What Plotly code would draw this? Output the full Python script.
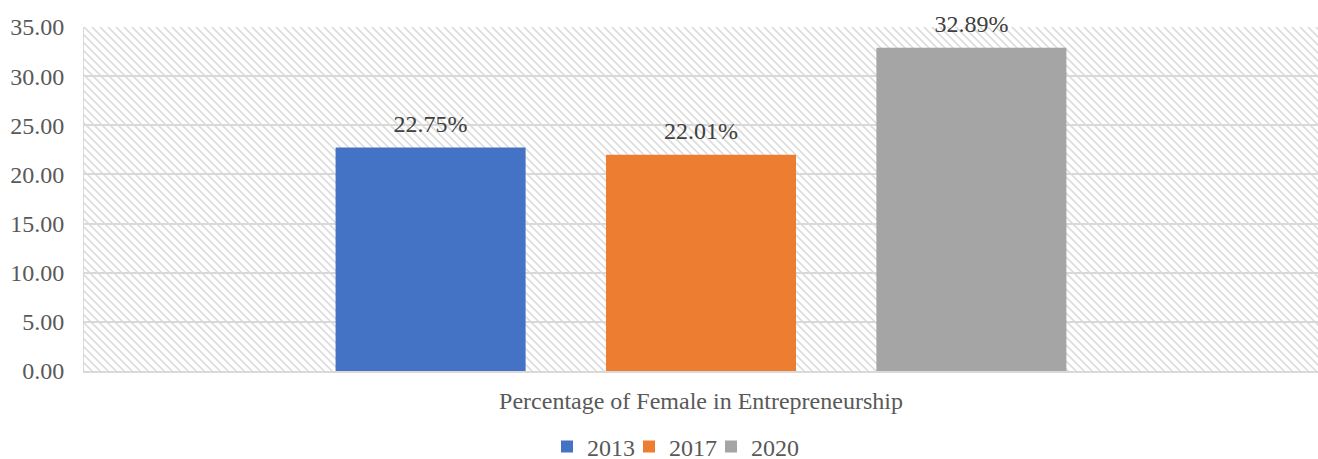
import base64
import plotly.graph_objects as go

categories = ["Percentage of Female in Entrepreneurship"]
years = ["2013", "2017", "2020"]
values = [22.75, 22.01, 32.89]
labels = ["22.75%", "22.01%", "32.89%"]
colors = ["#4472C4", "#ED7D31", "#A5A5A5"]
y_ticks = [0, 5, 10, 15, 20, 25, 30, 35]

W, H = 1318, 459
ML, MR, MT, MB = 84, 0, 27, 88
PW, PH = W - ML - MR, H - MT - MB

svg = f'''<svg xmlns="http://www.w3.org/2000/svg" width="{PW}" height="{PH}" viewBox="0 0 {PW} {PH}">
<defs><pattern id="p" width="8" height="8" patternUnits="userSpaceOnUse">
<path d="M-2,6 l4,4 M0,0 l8,8 M6,-2 l4,4" stroke="#dcdcdc" stroke-width="1.6"/>
</pattern></defs>
<rect width="{PW}" height="{PH}" fill="white"/>
<rect width="{PW}" height="{PH}" fill="url(#p)"/>
</svg>'''
src = "data:image/svg+xml;base64," + base64.b64encode(svg.encode()).decode()

fig = go.Figure()
n = len(years)
for i, (yr, v, c) in enumerate(zip(years, values, colors)):
    fig.add_trace(go.Bar(x=categories, y=[v], name=yr, marker_color=c,
                         marker_line_width=0, hoverinfo="skip",
                         legendwidth=37 if i < n - 1 else 60))
for yr, v, t in zip(years, values, labels):
    fig.add_trace(go.Scatter(x=categories, y=[v], text=[t], mode="markers+text",
                             textposition="top center", cliponaxis=False,
                             marker=dict(size=13.6, opacity=0),
                             textfont=dict(family="Liberation Serif", size=24, color="#404040"),
                             showlegend=False, hoverinfo="skip"))

fig.update_layout(
    width=W, height=H,
    margin=dict(l=ML, r=MR, t=MT, b=MB),
    paper_bgcolor="white", plot_bgcolor="rgba(0,0,0,0)",
    barmode="group", bargap=0.3426, bargroupgap=0.2973,
    scattermode="group", scattergap=0.3426,
    font=dict(family="Liberation Serif", size=24, color="#595959"),
    images=[dict(source=src, xref="paper", yref="paper", x=0, y=1, sizex=1, sizey=1,
                 xanchor="left", yanchor="top", sizing="stretch", layer="below")],
    legend=dict(orientation="h", xref="container", x=547 / W, xanchor="left",
                yref="container", y=12 / H, yanchor="middle",
                entrywidthmode="pixels",
                font=dict(size=24, color="#595959")),
    showlegend=True,
)
fig.update_xaxes(showline=True, linecolor="#d9d9d9", linewidth=2, showgrid=False,
                 ticks="", ticklabelstandoff=7)
fig.update_yaxes(range=[0, 35], tickvals=y_ticks, tickformat=".2f",
                 showgrid=True, gridcolor="#d9d9d9", gridwidth=1.5,
                 showline=True, linecolor="#d9d9d9", linewidth=1, zeroline=False,
                 ticks="", ticklabelstandoff=14)

fig.write_html("out.html", config={"displayModeBar": False},
               post_script="document.body.style.margin='0';document.body.style.overflow='hidden';")
